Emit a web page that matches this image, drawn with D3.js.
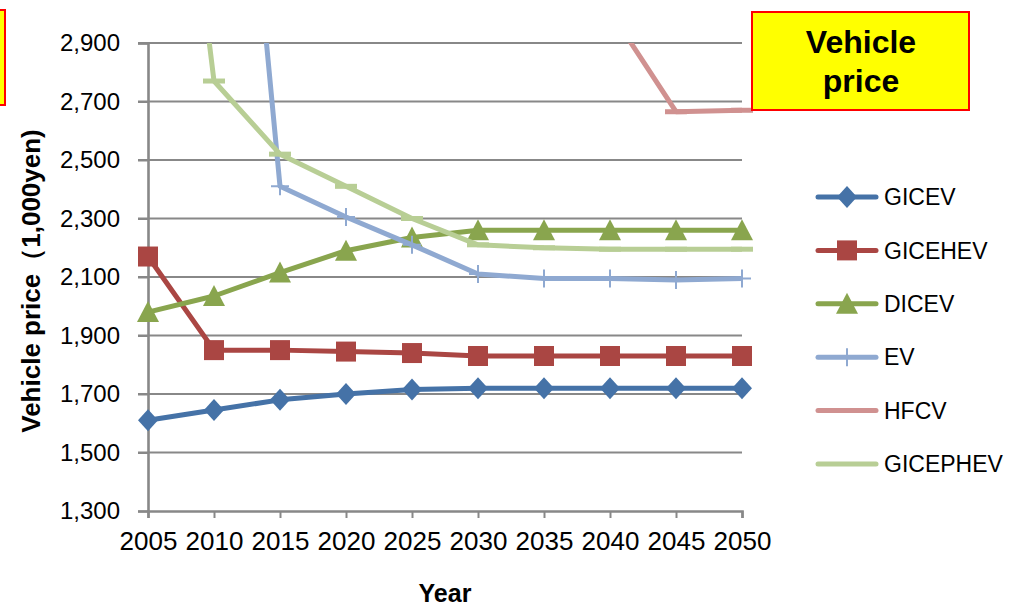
<!DOCTYPE html>
<html>
<head>
<meta charset="utf-8">
<script src="https://cdn.jsdelivr.net/npm/d3@7"></script>
<style>
  html, body { margin: 0; padding: 0; background: #fff; }
  svg { display: block; font-family: "Liberation Sans", Arial, sans-serif; }
</style>
</head>
<body>
<svg id="chart" width="1010" height="607"></svg>
<script>
// ---- data ----
const years = [2005, 2010, 2015, 2020, 2025, 2030, 2035, 2040, 2045, 2050];
const seriesNames = ["GICEV", "GICEHEV", "DICEV", "EV", "HFCV", "GICEPHEV"];
const gicev    = [1610, 1645, 1680, 1700, 1715, 1720, 1720, 1720, 1720, 1720];
const gicehev  = [2170, 1850, 1850, 1845, 1840, 1830, 1830, 1830, 1830, 1830];
const dicev    = [1980, 2035, 2115, 2190, 2235, 2260, 2260, 2260, 2260, 2260];
const ev       = [null, 4800, 2410, 2305, 2210, 2110, 2095, 2095, 2090, 2095];
const hfcv     = [null, null, null, null, null, null, null, 3010, 2665, 2670];
const gicephev = [4600, 2770, 2520, 2410, 2300, 2210, 2200, 2195, 2195, 2195];
const yTicks = [1300, 1500, 1700, 1900, 2100, 2300, 2500, 2700, 2900];
const yTitle = "Vehicle price（1,000yen)";
const xTitle = "Year";
const titleLines = ["Vehicle", "price"];

const seriesValues = [gicev, gicehev, dicev, ev, hfcv, gicephev];
const colors  = ["#4572A7", "#AA4643", "#89A54E", "#8FA9D1", "#D09190", "#B8CE95"];
const markers = ["diamond", "square", "triangle", "plus", "dash", "dash"];
const legendMarkers = ["diamond", "square", "triangle", "plus", "none", "none"];

// ---- layout ----
const svg = d3.select("#chart");
const X0 = 148, X1 = 742, Y0 = 511, Y1 = 43;
const x = d3.scaleLinear().domain([2005, 2050]).range([X0, X1]);
const y = d3.scaleLinear().domain([1300, 2900]).range([Y0, Y1]);
const gridColor = "#888888";

// gridlines
svg.append("g").selectAll("line").data(yTicks.slice(1)).join("line")
  .attr("x1", X0 - 10).attr("x2", X1)
  .attr("y1", d => y(d)).attr("y2", d => y(d))
  .attr("stroke", gridColor).attr("stroke-width", 2);

// y axis
const yAxis = d3.axisLeft(y).tickValues(yTicks).tickSize(10).tickPadding(18)
  .tickFormat(d3.format(","));
const gy = svg.append("g").attr("transform", `translate(${X0},0)`).call(yAxis);
gy.select(".domain").attr("stroke", gridColor).attr("stroke-width", 2.6);
gy.selectAll(".tick line").attr("stroke", gridColor).attr("stroke-width", 2);
gy.selectAll(".tick text").attr("font-size", 24).attr("fill", "#000")
  .attr("font-family", "Liberation Sans, Arial, sans-serif");

// x axis
const xAxis = d3.axisBottom(x).tickValues(years).tickSize(7).tickPadding(14)
  .tickFormat(d3.format("d"));
const gx = svg.append("g").attr("transform", `translate(0,${Y0})`).call(xAxis);
gx.select(".domain").attr("stroke", gridColor).attr("stroke-width", 2.6);
gx.selectAll(".tick line").attr("stroke", gridColor).attr("stroke-width", 2);
gx.selectAll(".tick text").attr("font-size", 26).attr("fill", "#000")
  .attr("font-family", "Liberation Sans, Arial, sans-serif");

// axis titles
svg.append("text").attr("x", 445).attr("y", 602).attr("text-anchor", "middle")
  .attr("font-size", 25).attr("font-weight", "bold").text(xTitle);
svg.append("text").attr("transform", "translate(40,281) rotate(-90)")
  .attr("text-anchor", "middle").attr("font-size", 26).attr("font-weight", "bold")
  .text(yTitle);

// clip at top of plot
svg.append("defs").append("clipPath").attr("id", "plotclip")
  .append("rect").attr("x", 0).attr("y", Y1).attr("width", 1010).attr("height", 600);

function markerPath(shape, cx, cy) {
  const p = d3.path();
  if (shape === "diamond") {
    p.moveTo(cx, cy - 11); p.lineTo(cx + 10, cy); p.lineTo(cx, cy + 11); p.lineTo(cx - 10, cy); p.closePath();
  } else if (shape === "square") {
    p.rect(cx - 10, cy - 10, 20, 20);
  } else if (shape === "triangle") {
    p.moveTo(cx, cy - 11); p.lineTo(cx + 11, cy + 10); p.lineTo(cx - 11, cy + 10); p.closePath();
  } else if (shape === "dash") {
    p.rect(cx - 11, cy - 2.5, 22, 5);
  }
  return p.toString();
}

const plot = svg.append("g").attr("clip-path", "url(#plotclip)");
const line = d3.line().defined(d => d.v != null).x(d => x(d.year)).y(d => y(d.v));

seriesValues.forEach((vals, i) => {
  const pts = years.map((yr, j) => ({ year: yr, v: vals[j] }));
  const g = plot.append("g");
  g.append("path").attr("d", line(pts)).attr("fill", "none")
    .attr("stroke", colors[i]).attr("stroke-width", 5)
    .attr("stroke-linejoin", "round").attr("stroke-linecap", "butt");
  const valid = pts.filter(d => d.v != null);
  if (markers[i] === "plus") {
    valid.forEach(d => {
      const cx = x(d.year), cy = y(d.v);
      g.append("path").attr("d", `M${cx - 9},${cy}H${cx + 9}M${cx},${cy - 9}V${cy + 9}`)
        .attr("stroke", colors[i]).attr("stroke-width", 2).attr("fill", "none");
    });
  } else {
    g.selectAll("path.m").data(valid).join("path").attr("class", "m")
      .attr("d", d => markerPath(markers[i], x(d.year), y(d.v)))
      .attr("fill", colors[i]);
  }
});

// legend
const legendY0 = 197, legendStep = 53.4;
const lg = svg.append("g");
seriesNames.forEach((name, i) => {
  const cy = legendY0 + i * legendStep;
  lg.append("line").attr("x1", 818).attr("x2", 876).attr("y1", cy).attr("y2", cy)
    .attr("stroke", colors[i]).attr("stroke-width", 5).attr("stroke-linecap", "round");
  if (legendMarkers[i] === "plus") {
    lg.append("path").attr("d", `M${847},${cy - 9}V${cy + 9}`)
      .attr("stroke", colors[i]).attr("stroke-width", 2);
  } else if (legendMarkers[i] !== "none") {
    lg.append("path").attr("d", markerPath(legendMarkers[i], 847, cy)).attr("fill", colors[i]);
  }
  lg.append("text").attr("x", 884).attr("y", cy).attr("dy", "0.36em")
    .attr("font-size", 23).attr("fill", "#000").text(name);
});

// title boxes
svg.append("rect").attr("x", -200).attr("y", 10).attr("width", 205).attr("height", 95)
  .attr("fill", "#FFFF00").attr("stroke", "#FF0000").attr("stroke-width", 2);
svg.append("rect").attr("x", 752).attr("y", 12).attr("width", 217).attr("height", 98)
  .attr("fill", "#FFFF00").attr("stroke", "#FF0000").attr("stroke-width", 2);
svg.append("g").selectAll("text").data(titleLines).join("text")
  .attr("x", 861).attr("y", (d, i) => 53 + i * 39).attr("text-anchor", "middle")
  .attr("font-size", 32).attr("font-weight", "bold").attr("fill", "#000").text(d => d);
</script>
</body>
</html>
